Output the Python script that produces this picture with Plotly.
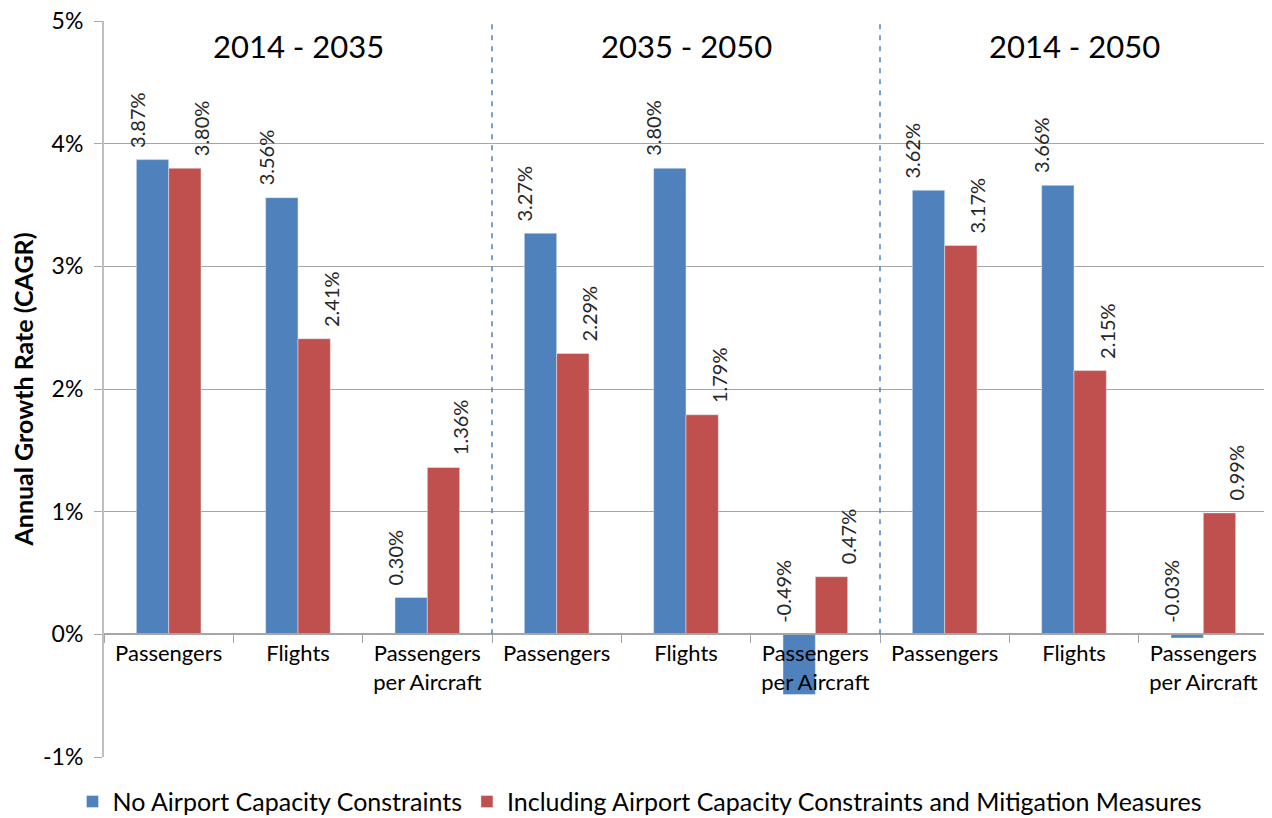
import plotly.graph_objects as go

groups = ["2014 - 2035", "2035 - 2050", "2014 - 2050"]
metrics = ["Passengers", "Flights", "Passengers<br>per Aircraft"]
no_constraints = [3.87, 3.56, 0.30, 3.27, 3.80, -0.49, 3.62, 3.66, -0.03]
with_constraints = [3.80, 2.41, 1.36, 2.29, 1.79, 0.47, 3.17, 2.15, 0.99]
y_ticks = [-1, 0, 1, 2, 3, 4, 5]

blue = "#4F81BD"
red = "#C0504D"
font = "Lato, 'Open Sans', sans-serif"

keys = [g + "|" + m for g in groups for m in metrics]
labels = [m for g in groups for m in metrics]
yrange = [y_ticks[0], y_ticks[-1]]

# the page body has an 8px margin, so the figure is a bit smaller than the window
W, H = 1264, 810
margin = dict(l=96, r=4, t=13, b=61, autoexpand=False)
slot = (W - margin["l"] - margin["r"]) / len(keys)

fig = go.Figure()
fig.add_trace(go.Bar(x=keys, y=no_constraints, name="No Airport Capacity Constraints",
                     marker=dict(color=blue)))
fig.add_trace(go.Bar(x=keys, y=with_constraints,
                     name="Including Airport Capacity Constraints and Mitigation Measures",
                     marker=dict(color=red)))

# value labels, rotated, sitting on top of the bar (or on the zero line for negatives)
for vals, sh in [(no_constraints, -slot / 4), (with_constraints, slot / 4)]:
    for k, v in zip(keys, vals):
        fig.add_annotation(x=k, y=max(v, 0), text=f"{v:.2f}%", textangle=-90,
                           showarrow=False, xanchor="center", yanchor="bottom",
                           xshift=sh, yshift=10, font=dict(size=20, color="#262626"))

# group titles and dashed separators
for i, g in enumerate(groups):
    mid = keys[i * len(metrics) + len(metrics) // 2]
    fig.add_annotation(x=mid, y=0.966, yref="paper", yanchor="middle", text=g, showarrow=False,
                       font=dict(size=31, color="black"))
    if i > 0:
        xs = i * len(metrics) - 0.5
        fig.add_shape(type="line", xref="x", yref="y", x0=xs, x1=xs, y0=0, y1=yrange[1],
                      line=dict(color=blue, width=1.5, dash="5px,6px"))

fig.update_xaxes(type="category", tickvals=keys, ticktext=labels, tickson="boundaries",
                 anchor="free", position=(0 - yrange[0]) / (yrange[1] - yrange[0]),
                 showline=True, linecolor="#A6A6A6", linewidth=1.5,
                 ticks="outside", ticklen=8, tickcolor="#A6A6A6",
                 showgrid=False, tickfont=dict(size=22, color="black"))
fig.update_yaxes(range=yrange, tickvals=y_ticks, ticktext=[f"{t}%" for t in y_ticks],
                 showgrid=True, gridcolor="#A6A6A6",
                 zeroline=False, showline=True, linecolor="#BFBFBF", linewidth=2,
                 ticks="outside", ticklen=8, tickcolor="#A6A6A6", ticklabelstandoff=6,
                 ticklabeloverflow="allow",
                 tickfont=dict(size=23, color="black"),
                 title=dict(text="<b>Annual Growth Rate (CAGR)</b>", font=dict(size=25, color="black"),
                            standoff=10))
fig.update_layout(width=W,
                  height=H,
                  margin=margin,
                  barmode="group",
                  bargap=0.5,
                  bargroupgap=0,
                  font=dict(family=font),
                  plot_bgcolor="white",
                  paper_bgcolor="white",
                  legend=dict(orientation="h", xref="container", x=0.5, xanchor="center",
                              yref="container", y=0.02, yanchor="middle",
                              font=dict(size=25, color="black"), itemwidth=30,
                              tracegroupgap=0),)
fig.write_html("out.html")
